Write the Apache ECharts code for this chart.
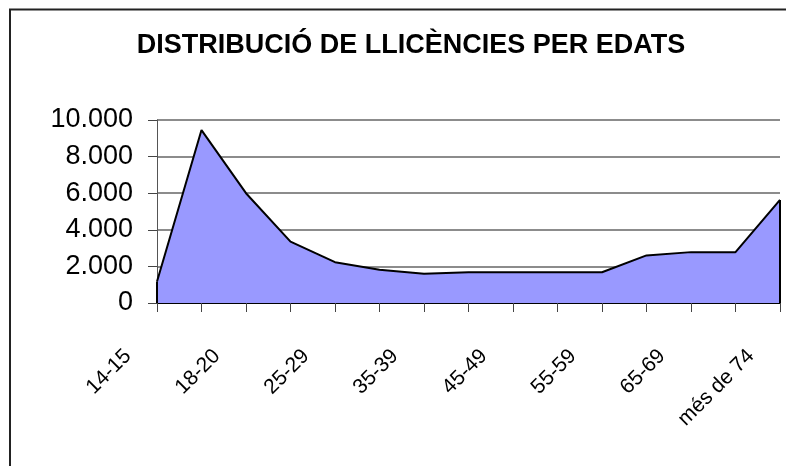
<!DOCTYPE html>
<html>
<head>
<meta charset="utf-8">
<script src="https://cdn.jsdelivr.net/npm/echarts@6/dist/echarts.min.js"></script>
<style>
    html, body { margin: 0; padding: 0; background: #fff; }
    #main { width: 786px; height: 466px; }
</style>
</head>
<body>
<div id="main"></div>
<script>
// grups d'edat
var categories = ['14-15', '16-17', '18-20', '21-24', '25-29', '30-34', '35-39', '40-44',
    '45-49', '50-54', '55-59', '60-64', '65-69', '70-74', 'més de 74'];
// llicències per grup (llegit del gràfic)
var llicencies = [1170, 9450, 6000, 3350, 2230, 1820, 1600, 1680,
    1680, 1680, 1680, 2600, 2780, 2780, 5630];
var yMin = 0, yMax = 10000, yStep = 2000;

var font = 'Liberation Sans, Arial, sans-serif';
var last = llicencies.length - 1;

function miles(v) {
    return String(v).replace(/\B(?=(\d{3})+(?!\d))/g, '.');
}

var myChart = echarts.init(document.getElementById('main'));
myChart.setOption({
    animation: false,
    title: {
        text: 'DISTRIBUCIÓ DE LLICÈNCIES PER EDATS',
        left: 406,
        textAlign: 'center',
        top: 27,
        textStyle: {fontFamily: font, fontWeight: 'bold', fontSize: 27, color: '#000'}
    },
    graphic: [{
        type: 'rect',
        shape: {x: 10, y: 9.5, width: 900, height: 500},
        style: {fill: null, stroke: '#222', lineWidth: 2},
        silent: true
    }],
    grid: [
        {left: 157, right: 6, top: 120, bottom: 163},
        // només per a les etiquetes inclinades
        {left: 128, right: 35, top: 120, bottom: 163}
    ],
    xAxis: [{
        type: 'category',
        gridIndex: 0,
        boundaryGap: false,
        data: categories,
        axisLine: {lineStyle: {color: '#000', width: 2}},
        axisTick: {interval: 0, length: 9, lineStyle: {color: '#444'}},
        axisLabel: {show: false}
    }, {
        type: 'category',
        gridIndex: 1,
        boundaryGap: false,
        data: categories,
        axisLine: {show: false},
        axisTick: {show: false},
        axisLabel: {
            interval: 1,
            rotate: 45,
            margin: 50,
            fontFamily: font,
            fontSize: 21,
            color: '#000'
        }
    }],
    yAxis: [{
        type: 'value',
        gridIndex: 0,
        min: yMin,
        max: yMax,
        interval: yStep,
        axisLine: {show: true, lineStyle: {color: '#555'}},
        axisTick: {show: true, length: 9, lineStyle: {color: '#444'}},
        axisLabel: {
            margin: 24,
            fontFamily: font,
            fontSize: 27,
            color: '#000',
            formatter: miles
        },
        splitLine: {lineStyle: {color: '#666', width: 1.5}}
    }, {
        type: 'value',
        gridIndex: 1,
        show: false
    }],
    series: [{
        type: 'line',
        xAxisIndex: 0,
        yAxisIndex: 0,
        data: llicencies,
        symbol: 'none',
        lineStyle: {color: '#000', width: 2},
        areaStyle: {color: '#9999ff', opacity: 1},
        markLine: {
            silent: true,
            symbol: 'none',
            label: {show: false},
            lineStyle: {color: '#000', width: 2, type: 'solid'},
            data: [
                [{coord: [0, 0]}, {coord: [0, llicencies[0]]}],
                [{coord: [last, 0]}, {coord: [last, llicencies[last]]}]
            ]
        }
    }]
});
</script>
</body>
</html>
